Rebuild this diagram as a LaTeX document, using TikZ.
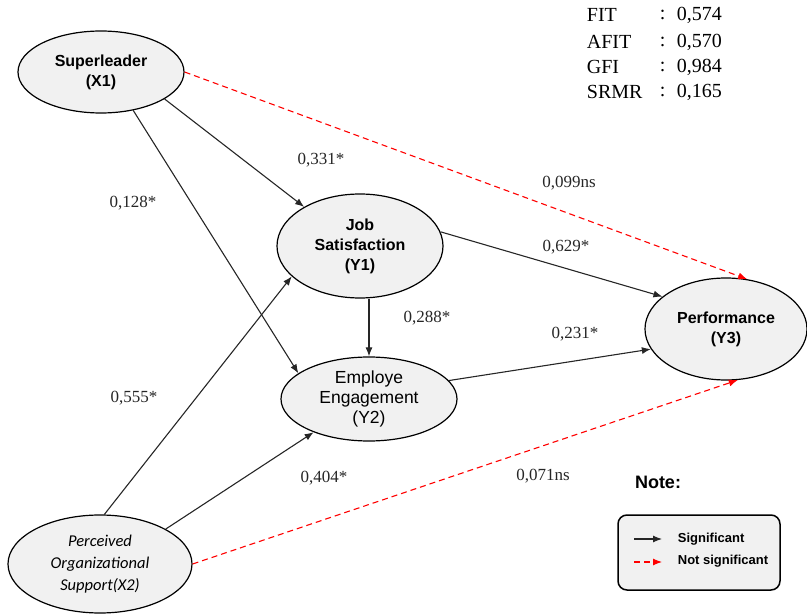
\documentclass[tikz,border=0pt]{standalone}
\usepackage{fontspec}
\setmainfont{Liberation Serif}
\setsansfont{Liberation Sans}
\newfontfamily\calibri{Carlito}
\usepackage{tikz}
\usetikzlibrary{%
  arrows.meta,%
  shapes,% wg. ellipse
  positioning%
}
\definecolor{latentfill}{HTML}{F1F1F1}

\begin{document}
\begin{tikzpicture}
[x=1pt, y=-1pt, line width=1.1pt, >={Latex[length=9pt,width=7pt]},
latent/.style={ellipse, draw=black, line width=1.2pt, fill=latentfill, inner sep=0pt, align=center},
boldlatent/.style={latent, font=\sffamily\bfseries\fontsize{16}{20}\selectfont},
coef/.style={font=\fontsize{17}{20}\selectfont, text=black!85},
fitrow/.style={anchor=west, font=\fontsize{20}{22}\selectfont},
sig/.style={->, draw=black!85},
nsig/.style={->, draw=red, dash pattern=on 6pt off 4pt}]

\useasboundingbox (0,0) rectangle (807,615);

% latent variables
\node[boldlatent, minimum width=166pt, minimum height=82pt] (x1) at (101,72) {Superleader\\(X1)};
\node[boldlatent, minimum width=166pt, minimum height=104pt] (y1) at (360,246) {Job\\Satisfaction\\(Y1)};
\node[latent, minimum width=176pt, minimum height=84pt, font=\sffamily\fontsize{17.5}{20}\selectfont] (y2) at (369,399) {Employe\\Engagement\\(Y2)};
\node[boldlatent, minimum width=162pt, minimum height=102pt] (y3) at (726,329) {Performance\\(Y3)};
\node[latent, minimum width=184pt, minimum height=98pt, font=\calibri\itshape\fontsize{16.5}{22}\selectfont] (x2) at (100,564) {Perceived\\Organizational\\Support(X2)};

% paths
\draw[sig] (x1.-23) -- (y1.145);
\draw[sig] (x1.-50) -- (y2.160);
\draw[nsig] (x1.east) -- (y3.67);
\draw[sig] (y1.10) -- (y3.153);
\draw[sig] (y1.south -| y2.north) -- (y2.north);
\draw[sig] (y2.13) -- (y3.195);
\draw[sig] (x2.85) -- (y1.204);
\draw[sig] (x2.28) -- (y2.211);
\draw[nsig] (x2.east) -- (y3.283);

% coefficients
\node[coef] (c331) at (321,160) {0,331*};
\node[coef] (c128) at (133,203) {0,128*};
\node[coef] (c099) at (569,183) {0,099ns};
\node[coef] (c629) at (566,247) {0,629*};
\node[coef] (c288) at (427,318) {0,288*};
\node[coef] (c231) at (575,334) {0,231*};
\node[coef] (c555) at (134,398) {0,555*};
\node[coef] (c404) at (324,478) {0,404*};
\node[coef] (c071) at (543,476) {0,071ns};

% fit indices
\node[fitrow] (fit) at (583,15) {FIT};
\node[fitrow] (afit) at (583,42) {AFIT};
\node[fitrow] (gfi) at (583,67) {GFI};
\node[fitrow] (srmr) at (583,92) {SRMR};
\foreach \yy/\val in {15/{0,574}, 42/{0,570}, 67/{0,984}, 92/{0,165}}{
  \node[fitrow] at (656,\yy) {:};
  \node[fitrow] at (673,\yy) {\val};
}

% legend
\node[font=\sffamily\bfseries\fontsize{18}{20}\selectfont] (note) at (658,482) {Note:};
\draw[line width=1.5pt, rounded corners=9pt, fill=latentfill] (618,515) rectangle (780,590);
\coordinate (ls1) at (634,539);
\coordinate (le1) at (662,539);
\coordinate (ls2) at (634,562);
\coordinate (le2) at (662,562);
\draw[sig] (ls1) -- (le1);
\draw[nsig] (ls2) -- (le2);
\node[anchor=west, font=\sffamily\bfseries\fontsize{13}{15}\selectfont] (lsig) at (674,539) {Significant};
\node[anchor=west, font=\sffamily\bfseries\fontsize{13}{15}\selectfont] (lnsig) at (674,561) {Not significant};

\end{tikzpicture}
\end{document}
